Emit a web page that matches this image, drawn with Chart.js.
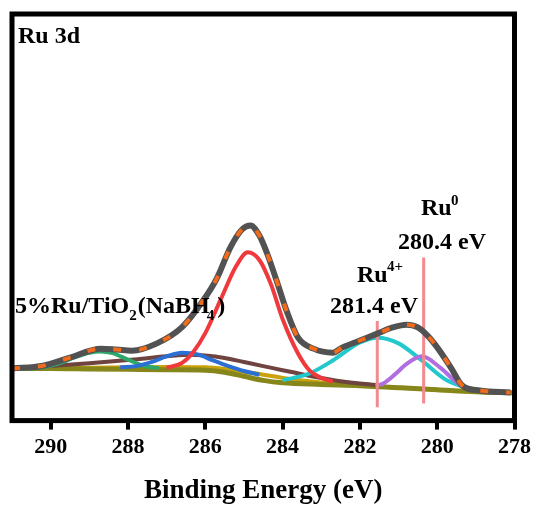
<!DOCTYPE html>
<html>
<head>
<meta charset="utf-8">
<script src="https://cdn.jsdelivr.net/npm/chart.js@4.4.0/dist/chart.umd.min.js"></script>
<style>
  body { margin: 0; background: #fff; }
  canvas { display: block; }
</style>
</head>
<body>
<canvas id="xps-chart" width="536" height="505"></canvas>
<script>
// binding energy (eV) / intensity (a.u.)
const envelopeBE = [291.0, 290.2, 289.5, 288.7, 288.3, 287.9, 287.25, 286.6, 286.05, 285.7, 285.35, 285.05, 284.83, 284.6, 284.4, 284.14, 283.9, 283.6, 283.2, 282.7, 282.45, 282.0, 281.55, 281.15, 280.8, 280.5, 280.25, 280.0, 279.65, 279.35, 278.9, 278.1];
const envelopeI = [12.8, 13.5, 15.5, 17.7, 17.5, 17.2, 19.0, 23.0, 29.6, 35.0, 42.6, 47.0, 48.0, 45.5, 41.1, 34.0, 27.1, 20.4, 17.7, 16.7, 18.0, 19.7, 21.4, 22.9, 23.6, 22.9, 20.9, 18.0, 13.1, 8.6, 7.4, 6.9];

const oliveBE = [291, 290, 289, 288, 287, 286, 285.5, 285, 284.5, 284, 283, 282, 281, 280, 279, 278];
const oliveI = [12.8, 12.8, 12.7, 12.6, 12.5, 12.4, 11.9, 10.9, 9.9, 9.3, 8.9, 8.6, 8.1, 7.6, 7.1, 6.8];

const goldBE = [291, 290, 289, 288, 287, 286, 285.5, 285, 284.5, 284, 283, 282, 281, 280, 279, 278];
const goldI = [12.8, 12.9, 13.0, 13.1, 13.2, 13.1, 12.7, 12.0, 11.3, 10.5, 9.4, 8.6, 8.1, 7.6, 7.1, 6.8];

const greenBE = [290.6, 290.2, 289.8, 289.4, 289.0, 288.7, 288.4, 288.0, 287.6, 287.2];
const greenI = [12.8, 13.1, 14.0, 15.5, 16.7, 17.0, 16.6, 15.0, 13.5, 12.9];

const blueBE = [288.2, 287.8, 287.4, 287.0, 286.6, 286.2, 285.8, 285.4, 285.0, 284.6];
const blueI = [13.1, 13.4, 14.4, 15.8, 16.7, 16.3, 14.8, 13.4, 12.2, 11.3];

const brownBE = [291, 290, 289, 288, 287, 286.4, 286, 285.5, 285, 284.5, 284, 283.5, 283, 282.5, 282, 281.5];
const brownI = [12.8, 13.4, 14.1, 14.9, 15.8, 16.2, 16.0, 15.4, 14.4, 13.4, 12.4, 11.4, 10.5, 9.7, 9.1, 8.7];

const redBE = [287.0, 286.6, 286.3, 286.0, 285.6, 285.2, 284.9, 284.6, 284.3, 284.0, 283.6, 283.3, 283.0, 282.7];
const redI = [13.0, 14.2, 17.0, 21.5, 29.8, 38.0, 41.4, 39.5, 33.5, 25.0, 16.5, 12.3, 10.5, 9.6];

const cyanBE = [284.0, 283.3, 282.7, 282.0, 281.55, 281.0, 280.4, 279.75, 279.15, 278.6, 278.1];
const cyanI = [9.9, 11.6, 14.8, 19.2, 20.4, 19.0, 14.8, 9.9, 7.9, 7.2, 6.9];

const purpleBE = [281.6, 281.4, 281.1, 280.78, 280.4, 279.93, 279.49, 279.15, 278.8];
const purpleI = [8.6, 9.1, 11.3, 14.0, 15.8, 13.1, 9.4, 7.6, 7.3];

// marker lines for Ru4+ and Ru0
const ru4LineBE = [281.55, 281.55];
const ru4LineI = [3.3, 24.5];
const ru0LineBE = [280.35, 280.35];
const ru0LineI = [4.2, 40.1];

const xTicks = [290, 288, 286, 284, 282, 280, 278];

function pts(be, inten) {
  return be.map((x, i) => ({ x: x, y: inten[i] }));
}

function curve(be, inten, color, order, width) {
  return {
    data: pts(be, inten),
    borderColor: color,
    borderWidth: width || 4,
    pointRadius: 0,
    cubicInterpolationMode: "monotone",
    fill: false,
    order: order
  };
}

const serif = '"Liberation Serif", "Times New Roman", serif';

const frameAndText = {
  id: "frameAndText",
  afterDatasetsDraw(chart) {
    const ctx = chart.ctx;
    const a = chart.chartArea;
    ctx.save();
    ctx.strokeStyle = "#000";
    ctx.lineWidth = 5;
    ctx.strokeRect(a.left, a.top, a.right - a.left, a.bottom - a.top);

    ctx.fillStyle = "#000";
    ctx.textBaseline = "alphabetic";
    ctx.textAlign = "left";
    const big = "bold 24px " + serif;
    const small = "bold 15px " + serif;

    ctx.font = big;
    ctx.fillText("Ru 3d", 18, 43);

    // 5%Ru/TiO2(NaBH4)
    let x = 15;
    const y = 313;
    ctx.font = big;
    ctx.fillText("5%Ru/TiO", x, y);
    x += ctx.measureText("5%Ru/TiO").width;
    ctx.font = small;
    ctx.fillText("2", x, y + 7);
    x += ctx.measureText("2").width + 1;
    ctx.font = big;
    ctx.fillText("(NaBH", x, y);
    x += ctx.measureText("(NaBH").width;
    ctx.font = small;
    ctx.fillText("4", x - 3, y + 7);
    x += ctx.measureText("4").width;
    ctx.font = big;
    ctx.fillText(")", x, y);

    // Ru0 label
    ctx.font = big;
    ctx.fillText("Ru", 421, 215);
    ctx.font = small;
    ctx.fillText("0", 451, 205);
    ctx.font = big;
    ctx.fillText("280.4 eV", 398, 249);

    // Ru4+ label
    ctx.fillText("Ru", 357, 282);
    ctx.font = small;
    ctx.fillText("4+", 387, 271);
    ctx.font = big;
    ctx.fillText("281.4 eV", 330, 313);
    ctx.restore();
  }
};

const ctx = document.getElementById("xps-chart").getContext("2d");

const xpsChart = new Chart(ctx, {
  type: "line",
  data: {
    datasets: [
      {
        data: pts(envelopeBE, envelopeI),
        borderColor: "#f26a1b",
        borderWidth: 4,
        borderDash: [8, 18],
        pointRadius: 0,
        cubicInterpolationMode: "monotone",
        fill: false,
        order: 0
      },
      {
        data: pts(envelopeBE, envelopeI),
        borderColor: "#525252",
        borderWidth: 6,
        pointRadius: 0,
        cubicInterpolationMode: "monotone",
        fill: false,
        order: 1
      },
      {
        data: pts(ru4LineBE, ru4LineI),
        borderColor: "#f28a8e",
        borderWidth: 3,
        pointRadius: 0,
        order: 2
      },
      {
        data: pts(ru0LineBE, ru0LineI),
        borderColor: "#f28a8e",
        borderWidth: 3,
        pointRadius: 0,
        order: 2
      },
      curve(redBE, redI, "#f0393c", 3),
      curve(purpleBE, purpleI, "#b06ee0", 4),
      curve(cyanBE, cyanI, "#22c8cc", 5),
      curve(blueBE, blueI, "#2a6fd4", 6),
      curve(greenBE, greenI, "#2ea86a", 7),
      curve(brownBE, brownI, "#6e4340", 8),
      curve(oliveBE, oliveI, "#86861a", 9, 5),
      curve(goldBE, goldI, "#c9a20c", 10)
    ]
  },
  options: {
    responsive: false,
    animation: false,
    devicePixelRatio: 1,
    layout: { padding: { left: 12, top: 14, right: 20, bottom: 0 } },
    plugins: {
      legend: { display: false },
      tooltip: { enabled: false }
    },
    scales: {
      x: {
        type: "linear",
        reverse: true,
        min: 278,
        max: 291,
        afterBuildTicks: (scale) => {
          scale.ticks = xTicks.map((v) => ({ value: v }));
        },
        ticks: {
          includeBounds: false,
          color: "#000",
          padding: 5,
          font: { family: serif, size: 22, weight: "bold", lineHeight: 1.2 }
        },
        grid: {
          drawOnChartArea: false,
          drawTicks: true,
          tickLength: 9,
          lineWidth: 4,
          color: "#000"
        },
        border: { display: false },
        title: {
          display: true,
          text: "Binding Energy (eV)",
          color: "#000",
          padding: { top: 12, bottom: 0 },
          font: { family: serif, size: 27, weight: "bold", lineHeight: 1.0 }
        }
      },
      y: {
        display: false,
        min: 0,
        max: 100
      }
    }
  },
  plugins: [frameAndText]
});
</script>
</body>
</html>
